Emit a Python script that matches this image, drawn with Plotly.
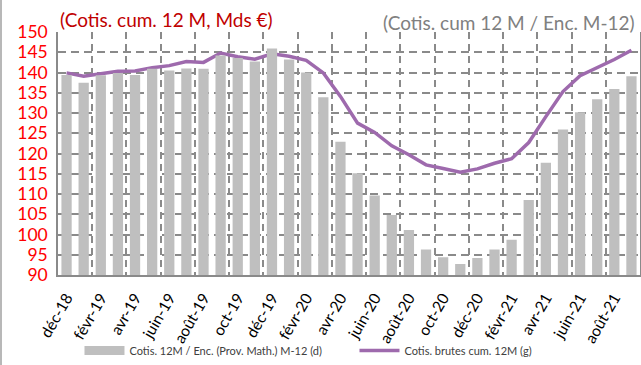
import plotly.graph_objects as go

# Monthly categories (Dec 2018 – Sep 2021)
months = [
    "déc-18", "janv-19", "févr-19", "mars-19", "avr-19", "mai-19", "juin-19",
    "juil-19", "août-19", "sept-19", "oct-19", "nov-19", "déc-19", "janv-20",
    "févr-20", "mars-20", "avr-20", "mai-20", "juin-20", "juil-20", "août-20",
    "sept-20", "oct-20", "nov-20", "déc-20", "janv-21", "févr-21", "mars-21",
    "avr-21", "mai-21", "juin-21", "juil-21", "août-21", "sept-21",
]

# Ratio: 12-month cumulative contributions / outstanding M-12 (right axis)
ratio_bars = [
    139.4, 137.5, 139.3, 139.9, 139.4, 140.9, 140.5, 141.0, 140.9, 144.2,
    143.6, 142.7, 145.9, 143.2, 140.0, 133.9, 122.9, 115.1, 109.6, 104.8,
    101.1, 96.3, 94.4, 92.7, 94.2, 96.3, 98.7, 108.5, 117.7, 125.9,
    130.2, 133.4, 135.9, 139.1,
]

# Gross contributions, 12-month cumulative, bn € (left axis)
gross_line = [
    139.9, 139.1, 139.7, 140.3, 140.4, 141.2, 141.7, 142.7, 142.5, 144.8,
    143.9, 143.3, 144.6, 144.0, 143.0, 139.9, 134.1, 127.5, 125.2, 121.9,
    119.7, 117.2, 116.3, 115.4, 116.2, 117.6, 118.7, 122.7, 129.1, 135.3,
    139.2, 141.2, 143.2, 145.5,
]

y_ticks = list(range(90, 151, 5))

bar_name = "Cotis. 12M / Enc. (Prov. Math.) M-12 (d)"
line_name = "Cotis. brutes cum. 12M (g)"

idx = list(range(len(months)))
GRID = "#8a8a8a"
FONT = "Lato"

fig = go.Figure()

fig.add_trace(go.Bar(
    x=idx, y=ratio_bars, yaxis="y2", width=0.6,
    marker=dict(color="#bfbfbf", line=dict(width=0)),
    name=bar_name, showlegend=False,
))
# legend swatch for the bars (wide grey band)
fig.add_trace(go.Scatter(
    x=[None], y=[None], mode="lines", name=bar_name,
    line=dict(color="#bfbfbf", width=9),
))
fig.add_trace(go.Scatter(
    x=idx, y=gross_line, mode="lines", name=line_name,
    line=dict(color="#9e6aad", width=3.5),
))

fig.update_layout(
    width=641, height=365,
    margin=dict(l=58, r=1, t=32, b=90),
    paper_bgcolor="white", plot_bgcolor="white",
    font=dict(family=FONT, color="#404040"),
    bargap=0.4,
    xaxis=dict(
        range=[-0.5, len(months) - 0.5],
        tickmode="array", tickvals=idx[::2], ticktext=months[::2],
        tickangle=-60, tickfont=dict(size=15.5, color="#000000"),
        ticks="", ticklabelstandoff=6, automargin=False,
        showgrid=False, zeroline=False,
        showline=True, linecolor=GRID, linewidth=1.5,
        minor=dict(tick0=1.5, dtick=2, showgrid=True, gridcolor=GRID,
                   gridwidth=1.5, griddash="7px,5px"),
    ),
    yaxis=dict(
        range=[90, 150], tickmode="array", tickvals=y_ticks,
        tickfont=dict(size=17.5, color="#ff0000"),
        showgrid=True, gridcolor=GRID, gridwidth=1.5, griddash="8px,5px",
        zeroline=False, showline=True, linecolor=GRID, linewidth=1.5,
        ticks="", ticklabelstandoff=5, automargin=False,
    ),
    yaxis2=dict(
        range=[90, 150], overlaying="y", side="right",
        showgrid=False, zeroline=False, showticklabels=False,
        showline=True, linecolor=GRID, linewidth=1.5, automargin=False,
    ),
    legend=dict(
        orientation="h", xref="container", yref="container",
        x=0.124, y=0.0, xanchor="left", yanchor="bottom",
        font=dict(size=11, color="#404040"),
        entrywidth=220, entrywidthmode="pixels",
        itemwidth=40, bgcolor="rgba(0,0,0,0)",
    ),
    annotations=[
        dict(text="(Cotis. cum. 12 M, Mds €)", xref="paper", yref="paper",
             x=0.0, y=1.0, xanchor="left", yanchor="bottom", yshift=-1,
             showarrow=False, font=dict(size=19, color="#c00000", family=FONT)),
        dict(text="(Cotis. cum 12 M / Enc. M-12)", xref="paper", yref="paper",
             x=0.995, y=1.0, xanchor="right", yanchor="bottom", yshift=-4,
             showarrow=False, font=dict(size=19, color="#808080", family=FONT)),
    ],
    shapes=[
        dict(type="line", xref="paper", yref="paper",
             x0=-57 / 582, x1=-57 / 582, y0=-90 / 243, y1=1 + 32 / 243,
             line=dict(color="#a0a0a0", width=1.5)),
    ],
)

fig.write_html("out.html")
